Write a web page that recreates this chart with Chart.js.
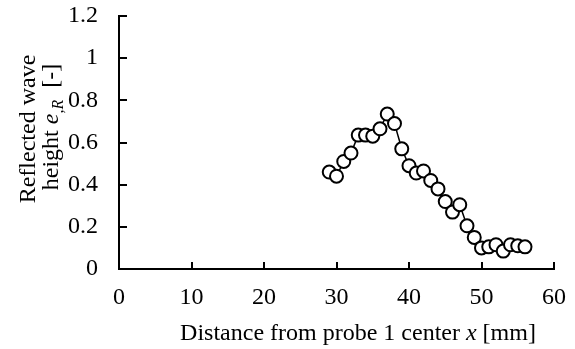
<!DOCTYPE html>
<html>
<head>
<meta charset="utf-8">
<script src="https://cdn.jsdelivr.net/npm/chart.js@4.4.1/dist/chart.umd.min.js"></script>
<style>
html,body{margin:0;padding:0;background:#fff;}
#wrap{width:575px;height:349px;position:relative;}
</style>
</head>
<body>
<div id="wrap"><canvas id="c" width="575" height="349"></canvas></div>
<script>
// Data
const distances = [29,30,31,32,33,34,35,36,37,38,39,40,41,42,43,44,45,46,47,48,49,50,51,52,53,54,55,56];
const reflectedHeights = [0.46,0.44,0.51,0.55,0.635,0.635,0.63,0.665,0.735,0.69,0.57,0.49,0.455,0.465,0.42,0.38,0.32,0.27,0.305,0.205,0.15,0.10,0.105,0.115,0.085,0.115,0.11,0.105];
const xTicks = [0,10,20,30,40,50,60];
const yTicks = [0,0.2,0.4,0.6,0.8,1,1.2];

const FONT = "'Liberation Serif','Times New Roman',serif";

const inwardTicks = {
  id: 'inwardTicks',
  afterDraw(chart) {
    const ctx = chart.ctx, xs = chart.scales.x, ys = chart.scales.y;
    ctx.save();
    ctx.strokeStyle = '#000';
    ctx.lineWidth = 2;
    ctx.beginPath();
    yTicks.forEach(v => {
      const py = Math.round(ys.getPixelForValue(v));
      ctx.moveTo(xs.left, py); ctx.lineTo(xs.left + 8, py);
    });
    xTicks.forEach(v => {
      const px = Math.round(xs.getPixelForValue(v));
      ctx.moveTo(px, ys.bottom); ctx.lineTo(px, ys.bottom - 7);
    });
    ctx.stroke();
    ctx.restore();
  }
};

function drawRich(ctx, parts, x, y, align) {
  let total = 0;
  parts.forEach(p => { ctx.font = p.font; p.w = ctx.measureText(p.t).width; total += p.w; });
  let cx = align === 'center' ? x - total / 2 : x;
  parts.forEach(p => {
    ctx.font = p.font;
    ctx.fillText(p.t, cx, y + (p.dy || 0));
    cx += p.w;
  });
}

const axisTitles = {
  id: 'axisTitles',
  afterDraw(chart) {
    const ctx = chart.ctx;
    ctx.save();
    ctx.fillStyle = '#000';
    ctx.textBaseline = 'alphabetic';
    ctx.textAlign = 'left';
    const n = "24px " + FONT, it = "italic 24px " + FONT, sub = "italic 16px " + FONT;
    drawRich(ctx, [
      {t: 'Distance from probe 1 center ', font: n},
      {t: 'x', font: it},
      {t: ' [mm]', font: n}
    ], 358, 340, 'center');
    ctx.save();
    ctx.translate(35, 129);
    ctx.rotate(-Math.PI / 2);
    drawRich(ctx, [{t: 'Reflected wave', font: n}], 0, 0, 'center');
    ctx.restore();
    ctx.save();
    ctx.translate(58, 127);
    ctx.rotate(-Math.PI / 2);
    drawRich(ctx, [
      {t: 'height ', font: n},
      {t: 'e', font: it},
      {t: ',R', font: sub, dy: 5},
      {t: '  [-]', font: n}
    ], 0, 0, 'center');
    ctx.restore();
    ctx.restore();
  }
};

new Chart(document.getElementById('c'), {
  type: 'line',
  data: {
    datasets: [{
      data: distances.map((d, i) => ({x: d, y: reflectedHeights[i]})),
      borderColor: '#000',
      borderWidth: 1.5,
      pointRadius: 6.5,
      pointBorderWidth: 2,
      pointBackgroundColor: '#fff',
      pointBorderColor: '#000',
      tension: 0,
      fill: false
    }]
  },
  options: {
    responsive: false,
    devicePixelRatio: 1,
    animation: false,
    events: [],
    layout: {padding: {left: 0, top: 16, right: 21, bottom: 0}},
    plugins: {legend: {display: false}, tooltip: {enabled: false}},
    scales: {
      x: {
        type: 'linear', min: 0, max: 60,
        afterBuildTicks: s => { s.ticks = xTicks.map(v => ({value: v})); },
        afterFit: s => { s.height = 80; s.paddingLeft = 0; s.paddingRight = 0; },
        grid: {display: true, drawOnChartArea: false, drawTicks: false},
        border: {display: true, color: '#000', width: 2},
        ticks: {color: '#000', font: {family: FONT, size: 24}, padding: 14, maxRotation: 0,
                callback: v => String(v)}
      },
      y: {
        type: 'linear', min: 0, max: 1.2,
        afterBuildTicks: s => { s.ticks = yTicks.map(v => ({value: v})); },
        afterFit: s => { s.width = 119; s.paddingTop = 0; s.paddingBottom = 0; },
        grid: {display: true, drawOnChartArea: false, drawTicks: false},
        border: {display: true, color: '#000', width: 2},
        ticks: {color: '#000', font: {family: FONT, size: 24}, padding: 21,
                callback: v => String(v)}
      }
    }
  },
  plugins: [inwardTicks, axisTitles]
});
</script>
</body>
</html>
